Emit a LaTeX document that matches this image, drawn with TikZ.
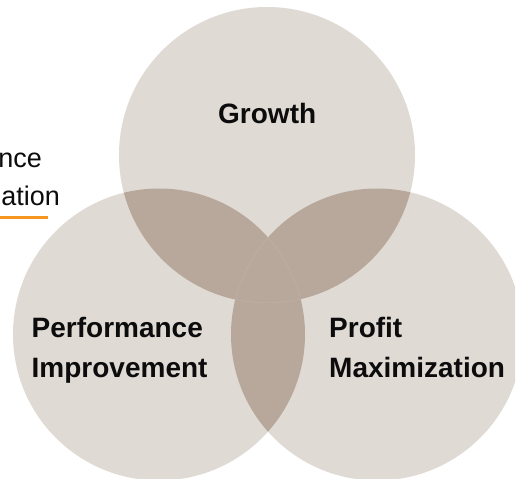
\documentclass[tikz,border=0pt]{standalone}
\usepackage{fontspec}
\setmainfont{Liberation Sans}
\definecolor{disc}{RGB}{224,218,213}
\definecolor{overlap}{RGB}{184,168,155}
\definecolor{seam}{RGB}{192,178,166}
\definecolor{txt}{RGB}{12,12,12}
\definecolor{accent}{RGB}{245,150,30}
\tikzset{
  label/.style={inner sep=0pt, anchor=base west, align=left, text=txt,
    font=\fontsize{28}{40}\selectfont\bfseries},
  sidetext/.style={inner sep=0pt, anchor=base east, text=txt,
    font=\fontsize{27}{32}\selectfont},
}
\begin{document}
\begin{tikzpicture}[x=1pt,y=-1pt]
\useasboundingbox (0,0) rectangle (517,479);
\fill[white] (0,0) rectangle (517,479);

% circle centres
\coordinate (cG) at (267,155);
\coordinate (cP) at (159,334.5);
\coordinate (cM) at (377,334.5);

% partly hidden caption on the left
\node[sidetext] (cap1) at (42,167) {nce};
\node[sidetext] (cap2) at (60,205) {ation};
\coordinate (ulA) at (0,217);
\coordinate (ulB) at (48,217);
\draw[accent, line width=3pt] (ulA) -- (ulB);

\begin{scope}
  \clip (0,0) rectangle (515,479);
  % three discs
  \fill[disc] (cG) circle (148);
  \fill[disc] (cP) circle (146);
  \fill[disc] (cM) circle (146);
  % pairwise overlaps
  \begin{scope}
    \clip (cG) circle (148);
    \fill[overlap] (cP) circle (146);
    \fill[overlap] (cM) circle (146);
  \end{scope}
  \begin{scope}
    \clip (cP) circle (146);
    \fill[overlap] (cM) circle (146);
  \end{scope}
  % faint seams inside the common region
  \begin{scope}
    \clip (cG) circle (148);
    \clip (cP) circle (146);
    \clip (cM) circle (146);
    \draw[seam, line width=0.8pt] (cP) circle (146);
    \draw[seam, line width=0.8pt] (cM) circle (146);
    \draw[seam, line width=0.8pt] (cG) circle (148);
  \end{scope}
\end{scope}

% labels (anchored at the baseline of the last line)
\node[label] (growth) at (218,123) {Growth};
\node[label] (perf) at (31.5,377) {Performance\\Improvement};
\node[label] (profit) at (329,377) {Profit\\Maximization};
\end{tikzpicture}
\end{document}
